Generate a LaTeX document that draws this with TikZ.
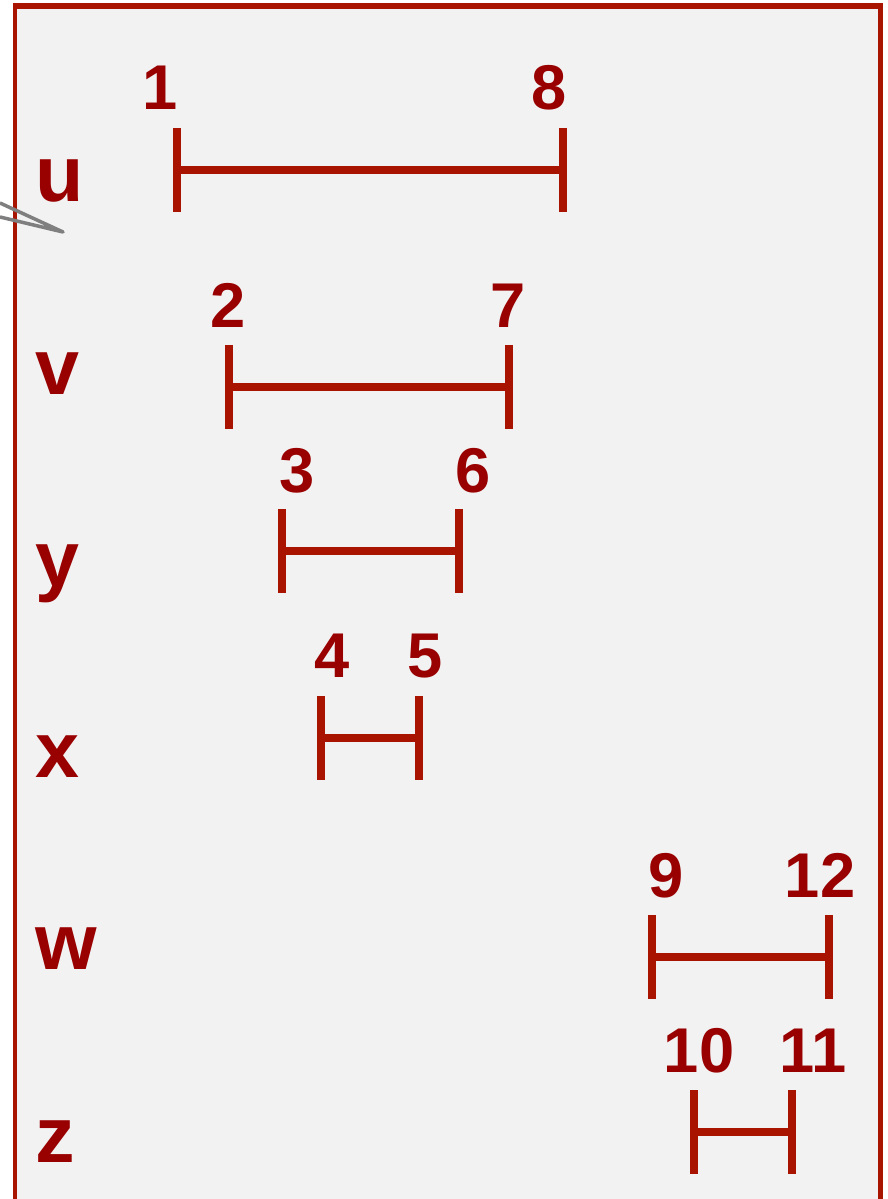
\documentclass[tikz,border=0pt]{standalone}
\usepackage{fontspec}
\setmainfont{Liberation Sans}
\usepackage{xcolor}
\definecolor{spanred}{HTML}{A81400}
\definecolor{labelred}{HTML}{990000}
\definecolor{panelgray}{HTML}{F2F2F2}
\definecolor{pointergray}{HTML}{7F7F7F}

\begin{document}
\begin{tikzpicture}[
  x=0.02cm,y=-0.02cm,
  var/.style={anchor=base west,inner sep=0pt,text=labelred,
    font=\fontsize{45}{45}\selectfont\bfseries},
  num/.style={anchor=base,inner sep=0pt,text=labelred,
    font=\fontsize{36}{36}\selectfont\bfseries},
  span/.style={draw=spanred,line width=0.16cm},
  pointer/.style={draw=pointergray,line width=0.07cm,line join=round}
]
  \useasboundingbox (0,0) rectangle (888,1199);
  \clip (0,0) rectangle (888,1199);

  % panel
  \draw[fill=panelgray,draw=spanred,line width=0.1cm] (15,6) rectangle (880,1320);
  \draw[spanred,line width=0.12cm] (13,6) -- (882,6);
  \coordinate (tipA) at (0,203);
  \coordinate (tipB) at (0,217);
  \coordinate (tip)  at (63,232);
  \draw[pointer] (tipA) -- (tip) -- (tipB);

  % variables
  \node[var] (lu) at (35,202)  {u};
  \node[var] (lv) at (35,394)  {v};
  \node[var] (ly) at (35,586)  {y};
  \node[var] (lx) at (35,777)  {x};
  \node[var] (lw) at (35,969)  {w};
  \node[var] (lz) at (35,1162) {z};

  % discovery / finish times
  \node[num] (n1)  at (160,110)  {1};
  \node[num] (n8)  at (549,110)  {8};
  \node[num] (n2)  at (228,327)  {2};
  \node[num] (n7)  at (508,327)  {7};
  \node[num] (n3)  at (297,492)  {3};
  \node[num] (n6)  at (473,492)  {6};
  \node[num] (n4)  at (332,677)  {4};
  \node[num] (n5)  at (425,677)  {5};
  \node[num] (n9)  at (666,897)  {9};
  \node[num] (n12) at (820,897)  {12};
  \node[num] (n10) at (699,1072) {10};
  \node[num] (n11) at (813,1072) {11};

  % intervals
  \coordinate (u1) at (177,170);  \coordinate (u2) at (563,170);
  \coordinate (v1) at (229,387);  \coordinate (v2) at (509,387);
  \coordinate (y1) at (282,551);  \coordinate (y2) at (459,551);
  \coordinate (x1) at (321,738);  \coordinate (x2) at (419,738);
  \coordinate (w1) at (652,957);  \coordinate (w2) at (829,957);
  \coordinate (z1) at (694,1132); \coordinate (z2) at (792,1132);

  \draw[span] (u1) -- (u2) (u1) ++(0,-42) -- ++(0,84) (u2) ++(0,-42) -- ++(0,84);
  \draw[span] (v1) -- (v2) (v1) ++(0,-42) -- ++(0,84) (v2) ++(0,-42) -- ++(0,84);
  \draw[span] (y1) -- (y2) (y1) ++(0,-42) -- ++(0,84) (y2) ++(0,-42) -- ++(0,84);
  \draw[span] (x1) -- (x2) (x1) ++(0,-42) -- ++(0,84) (x2) ++(0,-42) -- ++(0,84);
  \draw[span] (w1) -- (w2) (w1) ++(0,-42) -- ++(0,84) (w2) ++(0,-42) -- ++(0,84);
  \draw[span] (z1) -- (z2) (z1) ++(0,-42) -- ++(0,84) (z2) ++(0,-42) -- ++(0,84);
\end{tikzpicture}
\end{document}
